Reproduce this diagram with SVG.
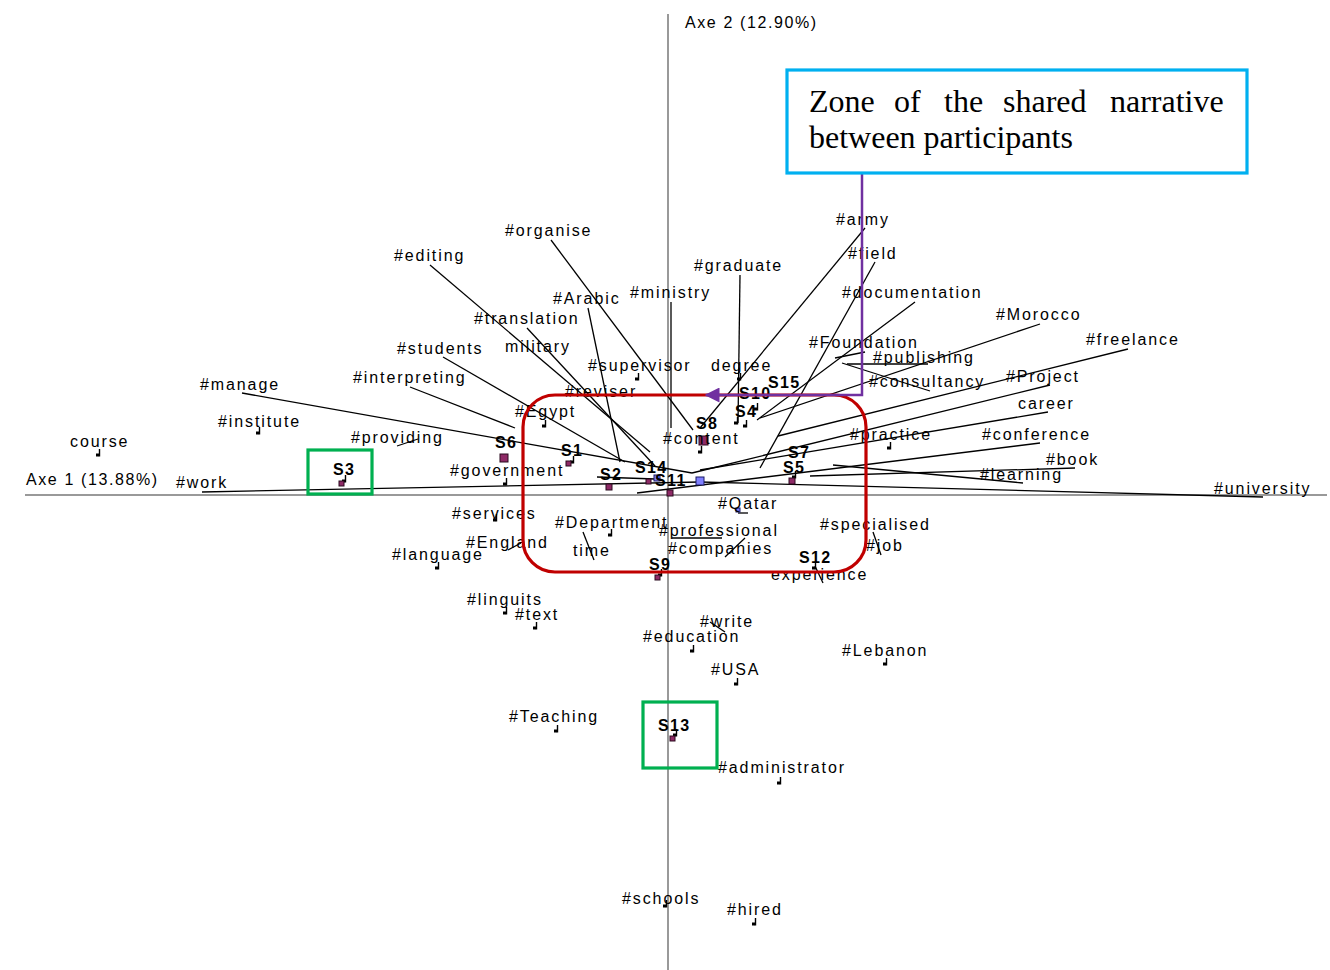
<svg xmlns="http://www.w3.org/2000/svg" xmlns:xlink="http://www.w3.org/1999/xlink" width="1330" height="970" viewBox="0 0 1330 970">
<style>
.t{font-family:"Liberation Sans",Arial,sans-serif;font-size:16px;letter-spacing:1.9px;fill:#000}
.s{font-family:"Liberation Sans",Arial,sans-serif;font-size:16px;font-weight:bold;letter-spacing:1.4px;fill:#000}
.a{font-family:"Liberation Sans",Arial,sans-serif;font-size:16px;letter-spacing:1.6px;fill:#000}
.z{font-family:"Liberation Serif","Times New Roman",serif;font-size:32px;fill:#000}
.ax{stroke:#999;stroke-width:2;fill:none}
.ln{stroke:#000;stroke-width:1.3;fill:none}
.pm{fill:#8e2a66;stroke:#2a0a1e;stroke-width:1}
.bm{fill:#8080ff;stroke:#1a1a66;stroke-width:1}
.red{fill:none;stroke:#c00000;stroke-width:3.2}
.grn{fill:none;stroke:#00b050;stroke-width:3.2}
.blu{fill:#fff;stroke:#00b0f0;stroke-width:3.2}
.pur{fill:none;stroke:#7030a0;stroke-width:2.5}
</style>
<defs>
<g id="d"><rect x="-3" y="-2.5" width="3" height="3" fill="#000"/><rect x="-0.2" y="-7" width="1.4" height="7.5" fill="#000"/></g>
<marker id="arr" viewBox="0 0 10 10" refX="9" refY="5" markerWidth="6" markerHeight="6" orient="auto-start-reverse"><path d="M0,0 L10,5 L0,10 z" fill="#7030a0"/></marker>
</defs>
<rect width="1330" height="970" fill="#fff"/>
<g id="axes">
<line class="ax" x1="668" y1="14" x2="668" y2="970"/>
<line class="ax" x1="25" y1="495" x2="1327" y2="495"/>
<text class="a" x="685" y="28">Axe 2 (12.90%)</text>
<text class="a" x="26" y="485">Axe 1 (13.88%)</text>
</g>
<g id="connectors">
<line class="ln" x1="551" y1="240" x2="693" y2="430"/>
<line class="ln" x1="430" y1="265" x2="650" y2="452"/>
<line class="ln" x1="527" y1="328" x2="655" y2="466"/>
<line class="ln" x1="588" y1="308" x2="620" y2="462"/>
<line class="ln" x1="671" y1="302" x2="671" y2="428"/>
<line class="ln" x1="740" y1="275" x2="738" y2="423"/>
<line class="ln" x1="865" y1="228" x2="700" y2="428"/>
<line class="ln" x1="875" y1="262" x2="760" y2="468"/>
<line class="ln" x1="915" y1="302" x2="757" y2="420"/>
<line class="ln" x1="1040" y1="324" x2="760" y2="418"/>
<line class="ln" x1="1128" y1="349" x2="778" y2="436"/>
<line class="ln" x1="1050" y1="385" x2="692" y2="473"/>
<line class="ln" x1="1048" y1="412" x2="700" y2="470"/>
<line class="ln" x1="1040" y1="443" x2="637" y2="493"/>
<line class="ln" x1="1075" y1="468" x2="810" y2="476"/>
<line class="ln" x1="1023" y1="483" x2="833" y2="465"/>
<line class="ln" x1="1263" y1="497" x2="700" y2="482"/>
<line class="ln" x1="202" y1="492" x2="700" y2="482"/>
<line class="ln" x1="242" y1="393" x2="692" y2="473"/>
<line class="ln" x1="410" y1="387" x2="515" y2="428"/>
<line class="ln" x1="443" y1="357" x2="625" y2="462"/>
<line class="ln" x1="597" y1="477" x2="655" y2="479"/>
<line class="ln" x1="865" y1="352" x2="835" y2="358"/>
<line class="ln" x1="847" y1="364" x2="928" y2="364"/>
<line class="ln" x1="842" y1="363" x2="930" y2="391"/>
<line class="ln" x1="397" y1="446" x2="418" y2="439"/>
<line class="ln" x1="583" y1="532" x2="594" y2="560"/>
<line class="ln" x1="508" y1="550" x2="521" y2="543"/>
<line class="ln" x1="672" y1="538" x2="722" y2="538"/>
<line class="ln" x1="745" y1="538" x2="725" y2="557"/>
<line class="ln" x1="873" y1="532" x2="881" y2="555"/>
<line class="ln" x1="815" y1="566" x2="823" y2="583"/>
<line class="ln" x1="710" y1="622" x2="725" y2="632"/>
<line class="ln" x1="738" y1="513" x2="748" y2="513"/>
</g>
<g id="markers">
<use href="#d" x="99" y="456"/>
<use href="#d" x="259" y="434"/>
<use href="#d" x="545" y="427"/>
<use href="#d" x="638" y="380"/>
<use href="#d" x="506" y="485"/>
<use href="#d" x="740" y="380"/>
<use href="#d" x="737" y="424"/>
<use href="#d" x="746" y="427"/>
<use href="#d" x="757" y="410"/>
<use href="#d" x="701" y="453"/>
<use href="#d" x="573" y="463"/>
<use href="#d" x="890" y="449"/>
<use href="#d" x="815" y="569"/>
<use href="#d" x="496" y="521"/>
<use href="#d" x="611" y="536"/>
<use href="#d" x="438" y="569"/>
<use href="#d" x="506" y="614"/>
<use href="#d" x="536" y="629"/>
<use href="#d" x="693" y="652"/>
<use href="#d" x="886" y="665"/>
<use href="#d" x="737" y="685"/>
<use href="#d" x="557" y="732"/>
<use href="#d" x="780" y="784"/>
<use href="#d" x="666" y="907"/>
<use href="#d" x="755" y="925"/>
<use href="#d" x="345" y="482"/>
<use href="#d" x="676" y="736"/>
<use href="#d" x="661" y="576"/>
<use href="#d" x="795" y="478"/>
<rect class="pm" x="500" y="454" width="8" height="8"/>
<rect class="pm" x="566" y="461" width="5" height="5"/>
<rect class="pm" x="606" y="484" width="6" height="6"/>
<rect class="pm" x="646" y="479" width="5" height="5"/>
<rect class="pm" x="667" y="490" width="6" height="6"/>
<rect class="pm" x="699" y="436" width="9" height="9"/>
<rect class="pm" x="789" y="478" width="6" height="6"/>
<rect class="pm" x="655" y="575" width="5" height="5"/>
<rect class="pm" x="670" y="736" width="5" height="5"/>
<rect class="pm" x="339" y="481" width="5" height="5"/>
<rect class="bm" x="654" y="475" width="6" height="6"/>
<rect class="bm" x="696" y="477" width="8" height="8"/>
<rect class="bm" x="736" y="508" width="4" height="4"/>
</g>
<g id="words">
<text class="t" x="505" y="236">#organise</text>
<text class="t" x="394" y="261">#editing</text>
<text class="t" x="694" y="271">#graduate</text>
<text class="t" x="836" y="225">#army</text>
<text class="t" x="848" y="259">#field</text>
<text class="t" x="630" y="298">#ministry</text>
<text class="t" x="553" y="304">#Arabic</text>
<text class="t" x="842" y="298">#documentation</text>
<text class="t" x="474" y="324">#translation</text>
<text class="t" x="996" y="320">#Morocco</text>
<text class="t" x="1086" y="345">#freelance</text>
<text class="t" x="397" y="354">#students</text>
<text class="t" x="505" y="352">military</text>
<text class="t" x="809" y="348">#Foundation</text>
<text class="t" x="873" y="363">#publishing</text>
<text class="t" x="588" y="371">#supervisor</text>
<text class="t" x="711" y="371">degree</text>
<text class="t" x="869" y="387">#consultancy</text>
<text class="t" x="1006" y="382">#Project</text>
<text class="t" x="200" y="390">#manage</text>
<text class="t" x="353" y="383">#interpreting</text>
<text class="t" x="565" y="397">#reviser</text>
<text class="t" x="1018" y="409">career</text>
<text class="t" x="515" y="417">#Egypt</text>
<text class="t" x="218" y="427">#institute</text>
<text class="t" x="663" y="444">#content</text>
<text class="t" x="850" y="440">#practice</text>
<text class="t" x="982" y="440">#conference</text>
<text class="t" x="70" y="447">course</text>
<text class="t" x="351" y="443">#providing</text>
<text class="t" x="1046" y="465">#book</text>
<text class="t" x="450" y="476">#government</text>
<text class="t" x="980" y="480">#learning</text>
<text class="t" x="176" y="488">#work</text>
<text class="t" x="1214" y="494">#university</text>
<text class="t" x="718" y="509">#Qatar</text>
<text class="t" x="452" y="519">#services</text>
<text class="t" x="555" y="528">#Department</text>
<text class="t" x="820" y="530">#specialised</text>
<text class="t" x="659" y="536">#professional</text>
<text class="t" x="466" y="548">#England</text>
<text class="t" x="866" y="551">#job</text>
<text class="t" x="668" y="554">#companies</text>
<text class="t" x="573" y="556">time</text>
<text class="t" x="392" y="560">#language</text>
<text class="t" x="771" y="580">experience</text>
<text class="t" x="467" y="605">#linguits</text>
<text class="t" x="515" y="620">#text</text>
<text class="t" x="700" y="627">#write</text>
<text class="t" x="643" y="642">#education</text>
<text class="t" x="842" y="656">#Lebanon</text>
<text class="t" x="711" y="675">#USA</text>
<text class="t" x="509" y="722">#Teaching</text>
<text class="t" x="718" y="773">#administrator</text>
<text class="t" x="622" y="904">#schools</text>
<text class="t" x="727" y="915">#hired</text>
</g>
<g id="participants">
<text class="s" x="768" y="388">S15</text>
<text class="s" x="739" y="399">S10</text>
<text class="s" x="735" y="417">S4</text>
<text class="s" x="696" y="429">S8</text>
<text class="s" x="495" y="448">S6</text>
<text class="s" x="561" y="456">S1</text>
<text class="s" x="788" y="458">S7</text>
<text class="s" x="783" y="473">S5</text>
<text class="s" x="635" y="473">S14</text>
<text class="s" x="600" y="480">S2</text>
<text class="s" x="655" y="486">S11</text>
<text class="s" x="333" y="475">S3</text>
<text class="s" x="799" y="563">S12</text>
<text class="s" x="649" y="570">S9</text>
<text class="s" x="658" y="731">S13</text>
</g>
<g id="zone-shared">
<rect class="red" x="523" y="395" width="343" height="177" rx="32" ry="32"/>
</g>
<g id="highlight-S3"><rect class="grn" x="308" y="450" width="64" height="44"/></g>
<g id="highlight-S13"><rect class="grn" x="643" y="702" width="74" height="66"/></g>
<g id="callout-link">
<polyline class="pur" points="862,174 862,395 706,395" marker-end="url(#arr)"/>
</g>
<g id="callout">
<rect class="blu" x="787" y="70" width="460" height="103"/>
<text class="z" y="112"><tspan x="809">Zone</tspan><tspan x="894">of</tspan><tspan x="944">the</tspan><tspan x="1003">shared</tspan><tspan x="1110">narrative</tspan></text>
<text class="z" x="809" y="148">between participants</text>
</g>
</svg>
